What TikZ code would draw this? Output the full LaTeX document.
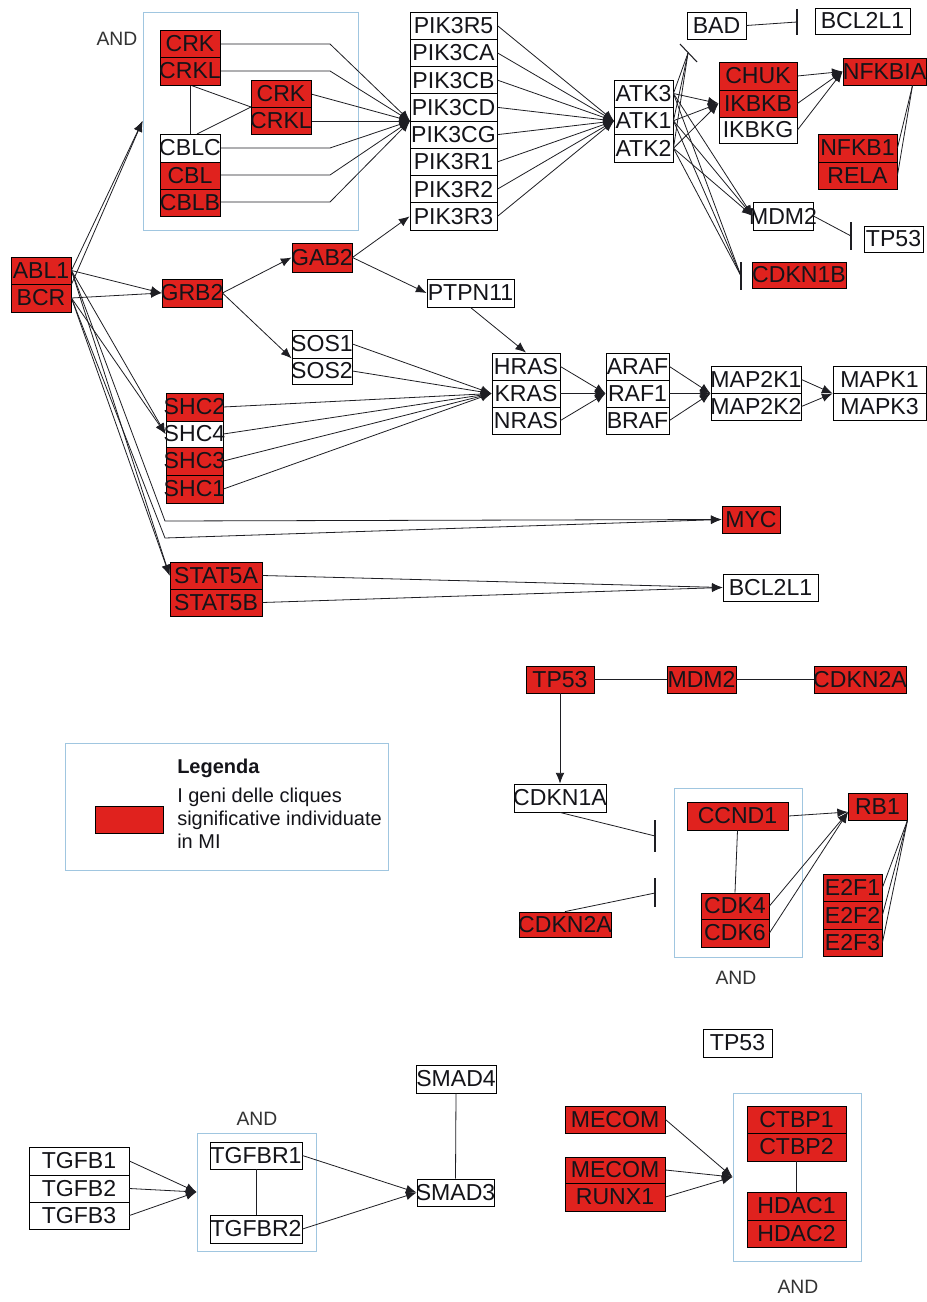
\documentclass[tikz,border=0pt]{standalone}
\usepackage{fontspec}
\setmainfont{Liberation Sans}
\usetikzlibrary{arrows.meta,calc}

\definecolor{genered}{RGB}{224,34,30}
\definecolor{framebl}{RGB}{160,198,224}
\definecolor{linec}{RGB}{30,30,35}
\definecolor{textc}{RGB}{20,20,25}

\tikzset{
  cell/.style={draw=black, line width=0.65pt, inner sep=0pt, fill=white,
    font=\fontsize{17.3}{19}\selectfont, text=textc},
  hit/.style={fill=genered},
  andbox/.style={draw=framebl, line width=0.7pt, fill=none},
  andlbl/.style={font=\fontsize{14.5}{16}\selectfont, text=black!80},
  legtxt/.style={font=\fontsize{15}{17}\selectfont, text=textc, anchor=base west, inner sep=0pt},
  link/.style={draw=linec, line width=0.6pt},
  act/.style={link, -{Latex[length=8pt,width=6.5pt]}},
  inhbar/.style={draw=linec, line width=0.8pt},
}

% gene box from its corners (x1,y1)-(x2,y2), in pixel units
\newcommand\genecell[7][]{%
  \pgfmathsetmacro\gcw{(#5-#3)*0.75}%
  \pgfmathsetmacro\gch{(#6-#4)*0.75}%
  \node[cell,#1,minimum width=\gcw pt,minimum height=\gch pt] (#2)
    at ({(#3+#5)/2},{(#4+#6)/2}) {\makebox[0pt]{#7}};}

\begin{document}
\begin{tikzpicture}[x=0.75pt,y=-0.75pt]
\fill[white] (0,0) rectangle (927,1302);
\useasboundingbox (0,0) rectangle (927,1302);

% ---------- AND frames ----------
\genecell[andbox]{andA}{143}{12}{358}{230}{}
\genecell[andbox]{andB}{674}{788}{802}{957}{}
\genecell[andbox]{andC}{197}{1133}{316}{1251}{}
\genecell[andbox]{andD}{733}{1093}{861}{1261}{}
\node[andlbl] at (117,39) {AND};
\node[andlbl] at (736,978) {AND};
\node[andlbl] at (257,1119) {AND};
\node[andlbl] at (798,1287) {AND};

% ---------- junction points and inhibition bars ----------
\coordinate (bx) at (330,0);
\coordinate (jpik) at (410,121);
\coordinate (jatk) at (614,121);
\coordinate (badbar) at (688,53);
\coordinate (cdkbar) at (741,276);
\coordinate (bclbar) at (797,22);
\coordinate (tpbar) at (851,236);
\coordinate (myca) at (165,521);
\coordinate (mycb) at (165,538);
\coordinate (jrb) at (848,812);
\coordinate (barA) at (655,836);
\coordinate (barB) at (655,893);

% ---------- CRK / CBL complex to PI3K (beneath the boxes) ----------
\draw[act] (220,44) coordinate (crkE) -- (crkE -| bx) -- (jpik);
\draw[act] (220,71) coordinate (crklE) -- (crklE -| bx) -- (jpik);
\draw[act] (311,94) coordinate (crkbE) -- (jpik);
\draw[act] (311,121) coordinate (crklbE) -- (jpik);
\draw[act] (220,148) coordinate (cblcE) -- (cblcE -| bx) -- (jpik);
\draw[act] (220,175) coordinate (cblE) -- (cblE -| bx) -- (jpik);
\draw[act] (220,202) coordinate (cblbE) -- (cblbE -| bx) -- (jpik);
\draw[link] (190,85) coordinate (crklS) -- (190,134);
\draw[link] (crklS) -- (251,107) coordinate (crkbW);
\draw[link] (197,134) -- (crkbW);

% ---------- gene boxes ----------
\genecell[hit]{crk}{160}{30}{220}{57}{CRK}
\genecell[hit]{crkl}{160}{57}{220}{85}{CRKL}
\genecell[hit]{crkb}{251}{80}{311}{107}{CRK}
\genecell[hit]{crklb}{251}{107}{311}{134}{CRKL}
\genecell{cblc}{160}{134}{220}{162}{CBLC}
\genecell[hit]{cbl}{160}{162}{220}{189}{CBL}
\genecell[hit]{cblb}{160}{189}{220}{216}{CBLB}

\genecell{pik3r5}{410}{12}{497}{39.25}{PIK3R5}
\genecell{pik3ca}{410}{39.25}{497}{66.5}{PIK3CA}
\genecell{pik3cb}{410}{66.5}{497}{93.75}{PIK3CB}
\genecell{pik3cd}{410}{93.75}{497}{121}{PIK3CD}
\genecell{pik3cg}{410}{121}{497}{148.25}{PIK3CG}
\genecell{pik3r1}{410}{148.25}{497}{175.5}{PIK3R1}
\genecell{pik3r2}{410}{175.5}{497}{202.75}{PIK3R2}
\genecell{pik3r3}{410}{202.75}{497}{230}{PIK3R3}

\genecell{atk3}{614}{80}{673}{107}{ATK3}
\genecell{atk1}{614}{107}{673}{134.5}{ATK1}
\genecell{atk2}{614}{134.5}{673}{162}{ATK2}

\genecell{bad}{687}{12}{746}{39}{BAD}
\genecell{bcla}{815}{8}{910}{34}{BCL2L1}
\genecell[hit]{chuk}{719}{62}{797}{90}{CHUK}
\genecell[hit]{ikbkb}{719}{90}{797}{117}{IKBKB}
\genecell{ikbkg}{719}{117}{797}{143}{IKBKG}
\genecell[hit]{nfkbia}{843}{58}{926}{85}{NFKBIA}
\genecell[hit]{nfkb1}{818}{134}{897}{162}{NFKB1}
\genecell[hit]{rela}{818}{162}{897}{189}{RELA}
\genecell{mdma}{753}{202}{813}{230}{MDM2}
\genecell{tpa}{864}{226}{923}{252}{TP53}
\genecell[hit]{cdkn1b}{752}{262}{846}{288}{CDKN1B}

\genecell[hit]{abl}{11}{257}{71}{284}{ABL1}
\genecell[hit]{bcr}{11}{284}{71}{312}{BCR}
\genecell[hit]{grb2}{162}{279}{222}{307}{GRB2}
\genecell[hit]{gab2}{292}{243}{352}{272}{GAB2}
\genecell{ptpn11}{427}{279}{514}{307}{PTPN11}
\genecell{sos1}{292}{330}{352}{358}{SOS1}
\genecell{sos2}{292}{358}{352}{384}{SOS2}
\genecell[hit]{shc2}{166}{393}{223}{421}{SHC2}
\genecell{shc4}{166}{421}{223}{447}{SHC4}
\genecell[hit]{shc3}{166}{447}{223}{475}{SHC3}
\genecell[hit]{shc1}{166}{475}{223}{503}{SHC1}
\genecell{hras}{492}{353}{560}{380}{HRAS}
\genecell{kras}{492}{380}{560}{407}{KRAS}
\genecell{nras}{492}{407}{560}{434}{NRAS}
\genecell{araf}{606}{353}{669}{380}{ARAF}
\genecell{raf1}{606}{380}{669}{407}{RAF1}
\genecell{braf}{606}{407}{669}{434}{BRAF}
\genecell{map2k1}{711}{366}{801}{393}{MAP2K1}
\genecell{map2k2}{711}{393}{801}{420}{MAP2K2}
\genecell{mapk1}{833}{366}{926}{393}{MAPK1}
\genecell{mapk3}{833}{393}{926}{420}{MAPK3}
\genecell[hit]{myc}{722}{506}{780}{533}{MYC}
\genecell[hit]{stat5a}{170}{562}{262}{589}{STAT5A}
\genecell[hit]{stat5b}{170}{589}{262}{616}{STAT5B}
\genecell{bclm}{723}{574}{818}{601}{BCL2L1}

\genecell[hit]{tpm}{526}{666}{594}{693}{TP53}
\genecell[hit]{mdmm}{667}{666}{736}{693}{MDM2}
\genecell[hit]{cdkn2ar}{814}{666}{906}{693}{CDKN2A}
\genecell{cdkn1a}{514}{784}{606}{812}{CDKN1A}
\genecell[hit]{cdkn2al}{519}{912}{611}{937}{CDKN2A}
\genecell[hit]{ccnd1}{687}{802}{788}{830}{CCND1}
\genecell[hit]{cdk4}{701}{893}{769}{919}{CDK4}
\genecell[hit]{cdk6}{701}{919}{769}{947}{CDK6}
\genecell[hit]{rb1}{848}{793}{907}{820}{RB1}
\genecell[hit]{e2f1}{823}{874}{882}{901}{E2F1}
\genecell[hit]{e2f2}{823}{901}{882}{929}{E2F2}
\genecell[hit]{e2f3}{823}{929}{882}{956}{E2F3}

\genecell{smad4}{416}{1065}{496}{1093}{SMAD4}
\genecell{smad3}{417}{1179}{494}{1206}{SMAD3}
\genecell{tgfb1}{29}{1147}{129}{1175}{TGFB1}
\genecell{tgfb2}{29}{1175}{129}{1202}{TGFB2}
\genecell{tgfb3}{29}{1202}{129}{1229}{TGFB3}
\genecell{tgfbr1}{210}{1142}{302}{1169}{TGFBR1}
\genecell{tgfbr2}{210}{1215}{302}{1243}{TGFBR2}
\genecell{tpb}{703}{1029}{772}{1057}{TP53}
\genecell[hit]{mecom}{565}{1106}{665}{1133}{MECOM}
\genecell[hit]{mecomb}{565}{1157}{665}{1183}{MECOM}
\genecell[hit]{runx1}{565}{1183}{665}{1211}{RUNX1}
\genecell[hit]{ctbp1}{747}{1106}{846}{1133}{CTBP1}
\genecell[hit]{ctbp2}{747}{1133}{846}{1161}{CTBP2}
\genecell[hit]{hdac1}{747}{1192}{846}{1220}{HDAC1}
\genecell[hit]{hdac2}{747}{1220}{846}{1247}{HDAC2}

% ---------- legend ----------
\genecell[andbox]{legend}{65}{743}{388}{870}{}
\genecell[hit]{legsw}{95}{806}{163}{833}{}
\node[legtxt, font=\fontsize{15}{17}\selectfont\bfseries] (legh) at (177,773) {Legenda};
\node[legtxt] (leg1) at (177,802) {I geni delle cliques};
\node[legtxt] (leg2) at (177,825) {significative individuate};
\node[legtxt] (leg3) at (177,848) {in MI};

% ---------- connectors ----------
% PI3K to AKT
\foreach \g in {pik3r5,pik3ca,pik3cb,pik3cd,pik3cg,pik3r1,pik3r2,pik3r3}
  \draw[act] (\g.east) -- (jatk);

% AKT targets
\foreach \g in {atk3,atk1,atk2}{
  \draw[act] (\g.east) -- (ikbkb.west);
  \draw[act] (\g.east) -- (mdma.west);
  \draw[link] (\g.east) -- (badbar);
  \draw[link] (\g.east) -- (cdkbar);
}
\draw[inhbar] (badbar) ++(-8,-9) -- ++(17,18);
\draw[inhbar] (cdkbar) ++(0,-14) -- ++(0,28);

\draw[link] (bad.east) -- (bclbar);
\draw[inhbar] (bclbar) ++(0,-13) -- ++(0,26);
\draw[link] (mdma.east) -- (tpbar);
\draw[inhbar] (tpbar) ++(0,-14) -- ++(0,28);

\foreach \g in {chuk,ikbkb,ikbkg}
  \draw[act] (\g.east) -- (nfkbia.west);
\coordinate (nfkbS) at ([xshift=21pt]nfkbia.south);
\draw[link] (nfkbS) -- (nfkb1.east);
\draw[link] (nfkbS) -- (rela.east);

% BCR-ABL1 outputs
\draw[act] (abl.east) -- (andA.west);
\draw[act] (abl.south east) -- (andA.west);
\draw[act] (abl.east) -- (grb2.west);
\draw[act] (bcr.east) -- (grb2.west);
\draw[act] (abl.east) -- (shc4.west);
\draw[act] (bcr.east) -- (shc4.west);
\draw[act] (abl.east) -- (stat5a.west);
\draw[act] (bcr.east) -- (stat5a.west);
\draw[act] (abl.east) -- (myca) -- (myc.west);
\draw[act] (bcr.east) -- (mycb) -- (myc.west);

% GRB2 branch
\draw[act] (grb2.east) -- (gab2.west);
\draw[act] (grb2.east) -- (sos1.south west);
\draw[act] (gab2.east) -- (pik3r3.west);
\draw[act] (gab2.east) -- (ptpn11.west);
\draw[act] (ptpn11.south) -- (hras.north);

% RAS / RAF / MEK / ERK cascade
\foreach \g in {sos1,sos2,shc2,shc4,shc3,shc1}
  \draw[act] (\g.east) -- (kras.west);
\foreach \g in {hras,kras,nras}
  \draw[act] (\g.east) -- (raf1.west);
\foreach \g in {araf,raf1,braf}
  \draw[act] (\g.east) -- (map2k1.south west);
\foreach \g in {map2k1,map2k2}
  \draw[act] (\g.east) -- (mapk1.south west);

\draw[act] (stat5a.east) -- (bclm.west);
\draw[act] (stat5b.east) -- (bclm.west);

% p53 / cell cycle
\draw[link] (tpm.east) -- (mdmm.west);
\draw[link] (mdmm.east) -- (cdkn2ar.west);
\draw[act] (tpm.south) -- (cdkn1a.north);
\draw[link] (cdkn1a.south) -- (barA);
\draw[inhbar] (barA) ++(0,-16) -- ++(0,32);
\draw[link] (cdkn2al.north) -- (barB);
\draw[inhbar] (barB) ++(0,-15) -- ++(0,29);
\draw[link] (ccnd1.south) -- (cdk4.north);
\foreach \g in {ccnd1,cdk4,cdk6}
  \draw[act] (\g.east) -- (jrb);
\foreach \g in {e2f1,e2f2,e2f3}
  \draw[link] (rb1.south east) -- (\g.east);

% TGF-beta
\foreach \g in {tgfb1,tgfb2,tgfb3}
  \draw[act] (\g.east) -- (andC.west);
\draw[link] (tgfbr1.south) -- (tgfbr2.north);
\draw[act] (tgfbr1.east) -- (smad3.west);
\draw[act] (tgfbr2.east) -- (smad3.west);
\draw[link] (smad4.south) -- (smad3.north);

% MECOM / CtBP / HDAC
\foreach \g in {mecom,mecomb,runx1}
  \draw[act] (\g.east) -- (andD.west);
\draw[link] (ctbp2.south) -- (hdac1.north);

\end{tikzpicture}
\end{document}
